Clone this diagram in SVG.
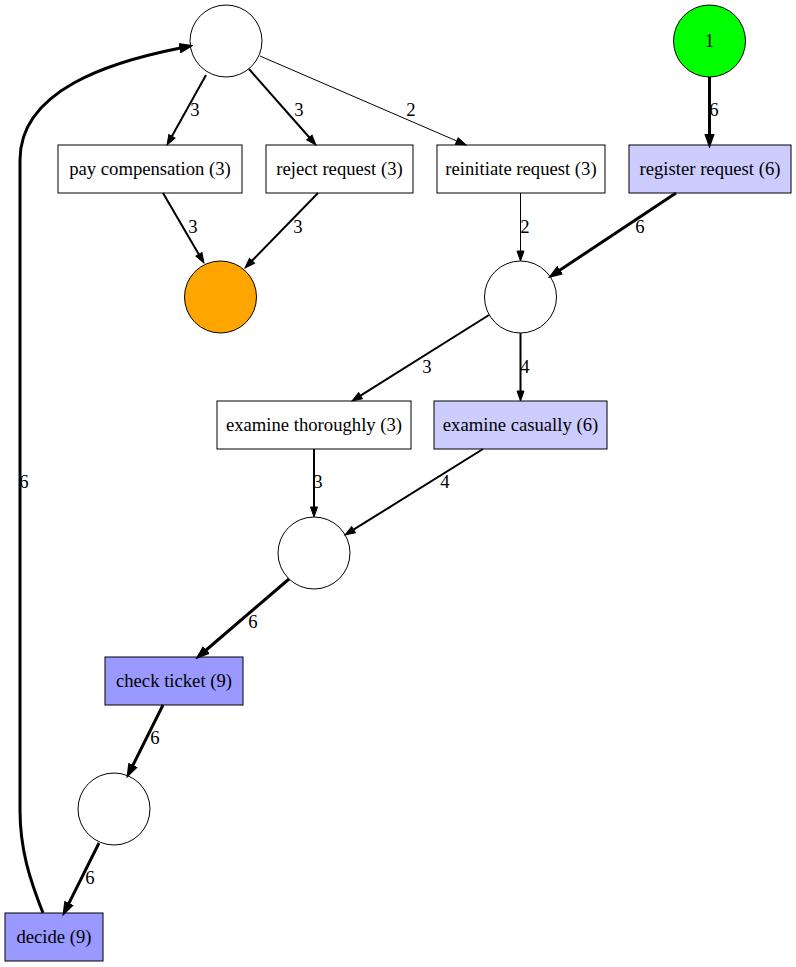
<svg xmlns="http://www.w3.org/2000/svg" width="796" height="967" viewBox="0 0 796 967">
  <defs>
    <marker id="arrow" markerUnits="userSpaceOnUse" markerWidth="14" markerHeight="14" refX="1" refY="7" orient="auto" viewBox="0 0 14 14">
      <path d="M1,3.5 L11,7 L1,10.5 z" fill="#000" stroke="#000" stroke-width="1"/>
    </marker>
    <marker id="arrowBold" markerUnits="userSpaceOnUse" markerWidth="14" markerHeight="14" refX="1" refY="7" orient="auto" viewBox="0 0 14 14">
      <path d="M1,3.5 L11,7 L1,10.5 z" fill="#000" stroke="#000" stroke-width="2.5" stroke-linejoin="miter"/>
    </marker>
    <style>
      text { font-family: "Liberation Serif", "Times New Roman", serif; font-size: 18.67px; fill: #000; text-anchor: middle; }
      .place { fill: #fff; stroke: #000; stroke-width: 1; }
      .trans { fill: #fff; stroke: #000; stroke-width: 1; }
      .freq1 { fill: #ccccff; }
      .freq2 { fill: #9999ff; }
      .e { fill: none; stroke: #000; marker-end: url(#arrow); }
      .w1 { stroke-width: 1; }
      .w2 { stroke-width: 2; }
      .w3 { stroke-width: 3; marker-end: url(#arrowBold); }
    </style>
  </defs>
  <rect width="796" height="967" fill="#fff"/>

  <!-- places -->
  <g id="p_top"><circle class="place" cx="226" cy="41" r="36"/></g>
  <g id="p_source"><circle class="place" cx="709.5" cy="41" r="36" style="fill:#00ff00"/><text x="709.5" y="47">1</text></g>
  <g id="p_sink"><circle class="place" cx="220.5" cy="297" r="36" style="fill:#ffa500"/></g>
  <g id="p_mid"><circle class="place" cx="520.5" cy="297" r="36"/></g>
  <g id="p_exam"><circle class="place" cx="314" cy="553" r="36"/></g>
  <g id="p_check"><circle class="place" cx="114" cy="809" r="36"/></g>

  <!-- transitions -->
  <g id="t_pay"><rect class="trans" x="58" y="145" width="184" height="48"/><text x="150" y="175">pay compensation (3)</text></g>
  <g id="t_reject"><rect class="trans" x="266" y="145" width="147" height="48"/><text x="339.5" y="175">reject request (3)</text></g>
  <g id="t_reinit"><rect class="trans" x="437" y="145" width="168" height="48"/><text x="521" y="175">reinitiate request (3)</text></g>
  <g id="t_register"><rect class="trans freq1" x="629" y="145" width="162" height="48"/><text x="710" y="175">register request (6)</text></g>
  <g id="t_thorough"><rect class="trans" x="217" y="401" width="194" height="48"/><text x="314" y="431">examine thoroughly (3)</text></g>
  <g id="t_casual"><rect class="trans freq1" x="434" y="401" width="173" height="48"/><text x="520.5" y="431">examine casually (6)</text></g>
  <g id="t_ticket"><rect class="trans freq2" x="105" y="657" width="138" height="48"/><text x="174" y="687">check ticket (9)</text></g>
  <g id="t_decide"><rect class="trans freq2" x="5" y="913" width="98" height="48"/><text x="54" y="943">decide (9)</text></g>

  <!-- arcs -->
  <g id="arcs">
    <path class="e w2" d="M206,75 L171.9,136.3"/>
    <text x="195" y="116">3</text>
    <path class="e w2" d="M249,69 L309.4,137.5"/>
    <text x="299" y="116">3</text>
    <path class="e w1" d="M260,56 L456.8,141"/>
    <text x="411" y="116">2</text>
    <path class="e w3" d="M709.5,77 L709.5,135"/>
    <text x="714" y="116">6</text>
    <path class="e w2" d="M163,193 L198.9,254.4"/>
    <text x="193" y="233">3</text>
    <path class="e w2" d="M318,193 L252,260.8"/>
    <text x="298" y="233">3</text>
    <path class="e w1" d="M520.5,193 L520.5,251"/>
    <text x="525" y="233">2</text>
    <path class="e w3" d="M676,193 L559.3,270.5"/>
    <text x="640" y="233">6</text>
    <path class="e w2" d="M489,315 L360.5,395.7"/>
    <text x="427" y="373">3</text>
    <path class="e w2" d="M520.5,333 L520.5,391"/>
    <text x="525" y="373">4</text>
    <path class="e w2" d="M314,449 L314,507"/>
    <text x="318" y="488">3</text>
    <path class="e w2" d="M483,449 L353.5,529.7"/>
    <text x="445" y="488">4</text>
    <path class="e w3" d="M289,579 L205.6,650.5"/>
    <text x="253" y="628">6</text>
    <path class="e w3" d="M163,705 L132.5,766.1"/>
    <text x="155" y="744">6</text>
    <path class="e w3" d="M99,843 L68.5,904.1"/>
    <text x="90" y="884">6</text>
    <path class="e w3" d="M43,913 C30,880 20,850 20,810 L20,160 C20,90 110,62 180.5,48"/>
    <text x="24" y="488">6</text>
  </g>
</svg>
